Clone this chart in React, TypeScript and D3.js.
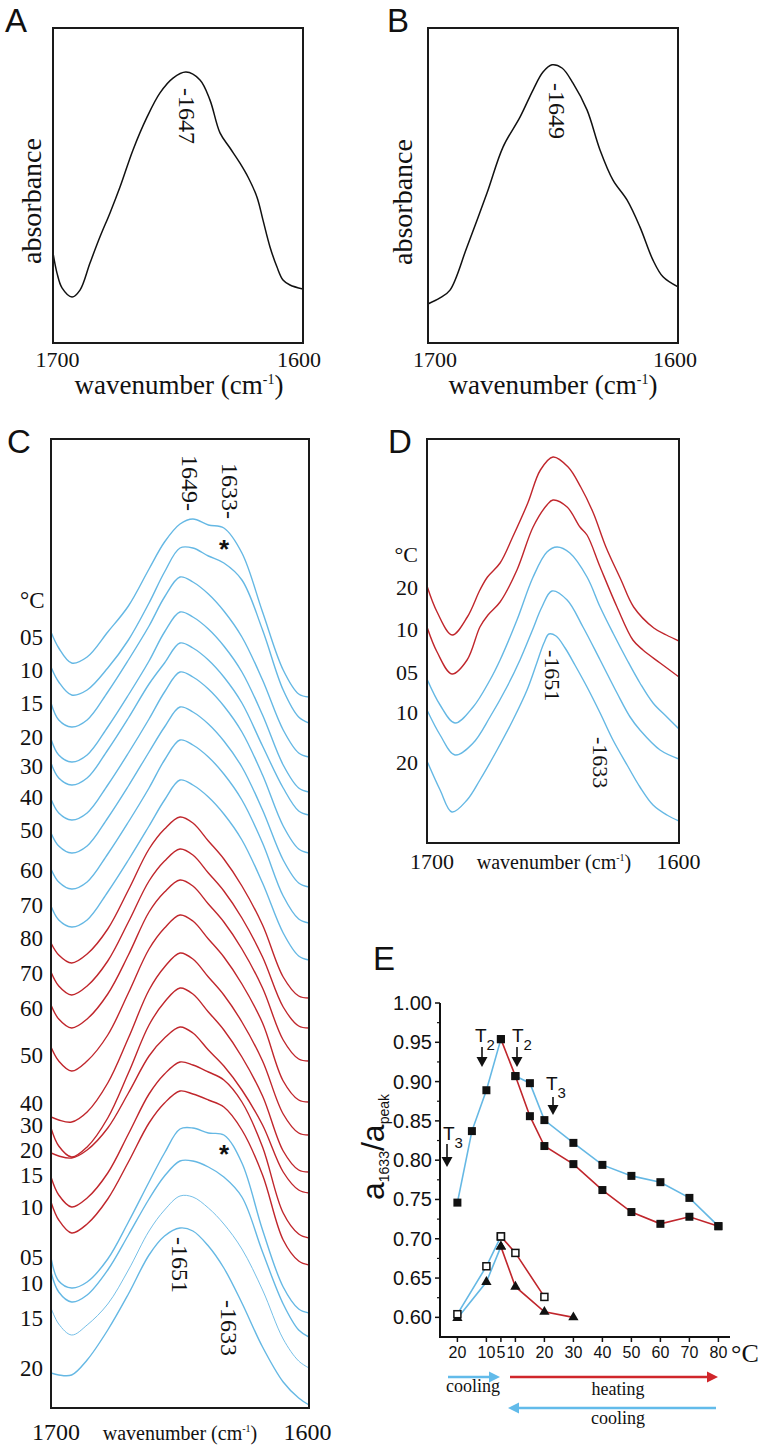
import React from "react";
import * as d3 from "d3";

// ---------- Panel A / B spectra (wavenumber cm-1, normalised absorbance) ----------
const A_WN = [1700, 1698.4, 1696.4, 1692.4, 1689.2, 1685.2, 1681.2, 1677.2, 1673.2, 1668, 1662.4, 1657.2, 1652, 1646.8, 1641.2, 1637.2, 1633.2, 1629.2, 1625.2, 1622, 1618.4, 1616, 1613.2, 1610.4, 1608, 1605.2, 1600];
const A_ABS = [0.286, 0.222, 0.175, 0.146, 0.168, 0.254, 0.337, 0.413, 0.495, 0.613, 0.717, 0.794, 0.841, 0.86, 0.835, 0.771, 0.667, 0.619, 0.571, 0.527, 0.463, 0.39, 0.305, 0.241, 0.2, 0.184, 0.171];
const B_WN = [1700, 1695.2, 1691.2, 1684.4, 1676.4, 1670, 1663.2, 1658, 1654, 1650.4, 1646.4, 1642, 1636.4, 1631.2, 1626, 1620.4, 1615.2, 1610, 1606, 1600];
const B_ABS = [0.124, 0.143, 0.168, 0.305, 0.476, 0.622, 0.717, 0.803, 0.86, 0.883, 0.873, 0.825, 0.74, 0.613, 0.517, 0.454, 0.368, 0.263, 0.21, 0.178];

// ---------- Panel C stacked spectra (a.u., offset) ----------
const C_WN = [1700, 1697, 1692, 1686, 1678, 1670, 1662, 1656, 1650, 1645, 1639, 1633, 1626, 1618, 1610, 1604, 1600];
const C_COOL_05 = [776, 760, 745, 751, 776, 802, 839, 866, 884, 889, 883, 880, 855, 796, 738, 714, 711];
const C_COOL_10 = [741, 726, 713, 718, 740, 768, 805, 836, 860, 860, 852, 845, 828, 778, 718, 691, 685];
const C_COOL_15 = [705, 688, 681, 688, 716, 748, 782, 811, 831, 826, 814, 797, 771, 728, 678, 655, 651];
const C_COOL_20 = [669, 653, 646, 653, 681, 713, 747, 776, 796, 791, 779, 762, 736, 693, 643, 620, 616];
const C_COOL_30 = [645, 630, 623, 630, 658, 690, 724, 745, 765, 760, 748, 731, 705, 662, 620, 597, 593];
const C_COOL_40 = [609, 595, 588, 595, 623, 655, 689, 716, 736, 731, 719, 702, 676, 633, 582, 559, 555];
const C_COOL_50 = [575, 562, 555, 562, 590, 622, 656, 681, 701, 696, 684, 667, 641, 598, 548, 525, 521];
const C_COOL_60 = [539, 526, 519, 526, 554, 586, 620, 648, 668, 663, 651, 634, 608, 565, 512, 489, 485];
const C_COOL_70 = [502, 488, 481, 488, 516, 548, 582, 608, 628, 623, 611, 594, 568, 525, 475, 452, 448];
const C_HEAT_80 = [465, 453, 445, 454, 479, 518, 559, 579, 591, 585, 567, 549, 522, 483, 431, 412, 410];
const C_HEAT_70 = [436, 422, 413, 422, 447, 486, 527, 547, 559, 553, 535, 517, 490, 451, 401, 382, 380];
const C_HEAT_60 = [403, 389, 380, 389, 414, 453, 496, 516, 528, 522, 504, 486, 459, 420, 368, 349, 347];
const C_HEAT_50 = [361, 347, 337, 347, 373, 415, 459, 480, 493, 487, 469, 451, 424, 385, 327, 308, 306];
const C_HEAT_40 = [291, 288, 286, 296, 325, 370, 418, 441, 455, 449, 431, 413, 386, 347, 294, 275, 273];
const C_HEAT_30 = [280, 262, 251, 261, 290, 335, 383, 406, 420, 414, 396, 378, 351, 312, 257, 238, 236];
const C_HEAT_20 = [255, 252, 250, 258, 280, 315, 352, 370, 381, 375, 358, 342, 318, 283, 236, 218, 215];
const C_HEAT_15 = [231, 213, 201, 210, 235, 274, 314, 334, 346, 343, 336, 328, 306, 261, 195, 174, 170];
const C_HEAT_10 = [206, 188, 175, 184, 209, 246, 285, 305, 317, 314, 308, 301, 278, 233, 168, 147, 143];
const C_RECOOL_05 = [150, 127, 120, 126, 149, 186, 226, 255, 279, 280, 275, 273, 245, 178, 121, 99, 95];
const C_RECOOL_10 = [136, 116, 106, 113, 138, 173, 209, 232, 247, 247, 241, 231, 211, 156, 104, 78, 71];
const C_RECOOL_15 = [100, 84, 73, 83, 104, 138, 177, 198, 212, 211, 200, 184, 159, 118, 69, 47, 40];
const C_RECOOL_20 = [35, 33, 33, 48, 78, 114, 153, 172, 180, 177, 162, 140, 105, 61, 26, 10, 3];

// ---------- Panel D stacked spectra ----------
const D_HEAT_20_WN = [1700, 1696, 1690, 1684, 1679, 1676, 1671, 1666, 1660, 1655, 1650, 1644, 1639, 1634, 1629, 1623, 1618, 1610, 1605, 1600];
const D_HEAT_20 = [257, 231, 208, 226, 253, 266, 280, 306, 340, 373, 386, 376, 356, 330, 296, 263, 236, 215, 208, 202];
const D_HEAT_10_WN = [1700, 1696, 1690.1, 1684.1, 1679, 1675.8, 1671, 1664.3, 1657.9, 1652.4, 1650, 1644.4, 1639.3, 1636.5, 1631.3, 1624.6, 1618.3, 1614.3, 1607.5, 1600];
const D_HEAT_10 = [216, 191, 169, 183, 216, 228, 241, 273, 316, 338, 343, 336, 316, 308, 276, 236, 203, 193, 180, 166];
const D_COOL_05_WN = [1700, 1694.8, 1688.9, 1681.7, 1675, 1671, 1664.3, 1657.9, 1652.4, 1648.4, 1643.3, 1636.5, 1631.3, 1626.2, 1620.6, 1615.5, 1610.3, 1604.8, 1600];
const D_COOL_05 = [164, 138, 120, 136, 163, 183, 223, 266, 291, 296, 290, 266, 236, 210, 183, 160, 140, 126, 114];
const D_COOL_10_WN = [1700, 1694.8, 1688.9, 1681.7, 1675, 1668.3, 1663.1, 1658.3, 1654.4, 1650.4, 1644.4, 1638.1, 1631.3, 1624.6, 1619.4, 1615.5, 1607.5, 1600];
const D_COOL_10 = [133, 108, 88, 100, 126, 156, 183, 212, 236, 252, 243, 216, 183, 150, 126, 113, 93, 84];
const D_COOL_20_WN = [1700, 1694.8, 1690.1, 1684.1, 1679, 1672.2, 1665.9, 1660.3, 1656.3, 1653.6, 1651.6, 1648.8, 1645.2, 1641.3, 1636.5, 1631.3, 1626.2, 1620.6, 1615.5, 1610.3, 1604.8, 1600];
const D_COOL_20 = [82, 53, 31, 43, 63, 93, 123, 153, 181, 200, 209, 207, 195, 178, 156, 130, 103, 78, 56, 38, 28, 22];

// ---------- Panel E: a1633/apeak vs temperature step ----------
const E_TICK_POS = [0, 1, 1.5, 2, 3, 4, 5, 6, 7, 8, 9];
const E_TICK_LABELS = ["20", "10", "5", "10", "20", "30", "40", "50", "60", "70", "80"];
const E_Y_TICKS = [0.6, 0.65, 0.7, 0.75, 0.8, 0.85, 0.9, 0.95, 1.0];
const E_SQ_COOL1_POS = [0, 0.5, 1, 1.5];
const E_SQ_COOL1 = [0.746, 0.837, 0.889, 0.954];
const E_SQ_HEAT_POS = [1.5, 2, 2.5, 3, 4, 5, 6, 7, 8, 9];
const E_SQ_HEAT = [0.954, 0.907, 0.856, 0.818, 0.795, 0.762, 0.734, 0.719, 0.728, 0.716];
const E_SQ_COOL2_POS = [9, 8, 7, 6, 5, 4, 3, 2.5, 2];
const E_SQ_COOL2 = [0.716, 0.752, 0.772, 0.78, 0.794, 0.822, 0.851, 0.898, 0.907];
const E_OPEN_COOL_POS = [0, 1, 1.5];
const E_OPEN_COOL = [0.604, 0.665, 0.703];
const E_OPEN_HEAT_POS = [1.5, 2, 3];
const E_OPEN_HEAT = [0.703, 0.682, 0.626];
const E_TRI_COOL_POS = [0, 1, 1.5];
const E_TRI_COOL = [0.599, 0.645, 0.69];
const E_TRI_HEAT_POS = [1.5, 2, 3, 4];
const E_TRI_HEAT = [0.69, 0.639, 0.607, 0.6];

// ---------- styling / layout ----------
const SERIF = "'Liberation Serif','Times New Roman',Times,serif";
const SANS = "'Liberation Sans',Arial,Helvetica,sans-serif";
const BLUE = "#65b8e4";
const RED = "#c0262c";
const ARROW_BLUE = "#62bbea";
const ARROW_RED = "#d0262b";
const FRAME = "#1a1a1a";

type Curve = { label: string; phase: "cooling" | "heating"; values: number[]; nudge: number; thin?: boolean };
const C_CURVES: Curve[] = [
  { label: "05", phase: "cooling", values: C_COOL_05, nudge: 5 },
  { label: "10", phase: "cooling", values: C_COOL_10, nudge: 3 },
  { label: "15", phase: "cooling", values: C_COOL_15, nudge: 0 },
  { label: "20", phase: "cooling", values: C_COOL_20, nudge: -2 },
  { label: "30", phase: "cooling", values: C_COOL_30, nudge: 3 },
  { label: "40", phase: "cooling", values: C_COOL_40, nudge: -2 },
  { label: "50", phase: "cooling", values: C_COOL_50, nudge: -3 },
  { label: "60", phase: "cooling", values: C_COOL_60, nudge: 1 },
  { label: "70", phase: "cooling", values: C_COOL_70, nudge: -1 },
  { label: "80", phase: "heating", values: C_HEAT_80, nudge: -5 },
  { label: "70", phase: "heating", values: C_HEAT_70, nudge: 1 },
  { label: "60", phase: "heating", values: C_HEAT_60, nudge: 3 },
  { label: "50", phase: "heating", values: C_HEAT_50, nudge: 8 },
  { label: "40", phase: "heating", values: C_HEAT_40, nudge: -14 },
  { label: "30", phase: "heating", values: C_HEAT_30, nudge: -3 },
  { label: "20", phase: "heating", values: C_HEAT_20, nudge: -3 },
  { label: "15", phase: "heating", values: C_HEAT_15, nudge: -2 },
  { label: "10", phase: "heating", values: C_HEAT_10, nudge: 5 },
  { label: "05", phase: "cooling", values: C_RECOOL_05, nudge: -1 },
  { label: "10", phase: "cooling", values: C_RECOOL_10, nudge: 11 },
  { label: "15", phase: "cooling", values: C_RECOOL_15, nudge: 10, thin: true },
  { label: "20", phase: "cooling", values: C_RECOOL_20, nudge: -5 },
];

type DCurve = { label: string; phase: "cooling" | "heating"; wn: number[]; values: number[]; nudge: number };
const D_CURVES: DCurve[] = [
  { label: "20", phase: "heating", wn: D_HEAT_20_WN, values: D_HEAT_20, nudge: 1 },
  { label: "10", phase: "heating", wn: D_HEAT_10_WN, values: D_HEAT_10, nudge: 2 },
  { label: "05", phase: "cooling", wn: D_COOL_05_WN, values: D_COOL_05, nudge: -7 },
  { label: "10", phase: "cooling", wn: D_COOL_10_WN, values: D_COOL_10, nudge: 2 },
  { label: "20", phase: "cooling", wn: D_COOL_20_WN, values: D_COOL_20, nudge: 1 },
];

const colorOf = (p: string) => (p === "cooling" ? BLUE : RED);

function Rot90({ x, y, text, size }: { x: number; y: number; text: string; size: number }) {
  return (
    <text transform={`translate(${x},${y}) rotate(90)`} fontFamily={SERIF} fontSize={size} dominantBaseline="central" fill="#111">
      {text}
    </text>
  );
}

function WaveTitle({ x, y, size }: { x: number; y: number; size: number }) {
  const sup = Math.round(size * 0.52);
  return (
    <text x={x} y={y} textAnchor="middle" fontFamily={SERIF} fontSize={size} fill="#111">
      wavenumber (cm
      <tspan fontSize={sup} dy={-size * 0.38}>-1</tspan>
      <tspan dy={size * 0.38}>)</tspan>
    </text>
  );
}

function HArrow({ x1, x2, y, color }: { x1: number; x2: number; y: number; color: string }) {
  const dir = x2 > x1 ? 1 : -1;
  const head = 11;
  const hw = 5.5;
  const bx = x2 - dir * head;
  return (
    <g>
      <line x1={x1} y1={y} x2={bx + dir * 1} y2={y} stroke={color} strokeWidth={2.6} />
      <path d={`M${x2},${y} L${bx},${y - hw} L${bx},${y + hw} Z`} fill={color} />
    </g>
  );
}

function DownArrow({ x, y1, y2 }: { x: number; y1: number; y2: number }) {
  const head = 10;
  return (
    <g>
      <line x1={x} y1={y1} x2={x} y2={y2 - head + 1} stroke="#111" strokeWidth={1.6} />
      <path d={`M${x},${y2} L${x - 5.5},${y2 - head} L${x + 5.5},${y2 - head} Z`} fill="#111" />
    </g>
  );
}

function TLabel({ x, y, sub }: { x: number; y: number; sub: string }) {
  return (
    <text x={x} y={y} fontFamily={SANS} fontSize={19} fill="#111">
      T<tspan fontSize={15} dy={8}>{sub}</tspan>
    </text>
  );
}

export default function App() {
  const xA = d3.scaleLinear().domain([1700, 1600]).range([53, 303]);
  const yA = d3.scaleLinear().domain([0, 1]).range([343, 28]);
  const xB = d3.scaleLinear().domain([1700, 1600]).range([428, 678]);
  const yB = d3.scaleLinear().domain([0, 1]).range([343, 28]);
  const xC = d3.scaleLinear().domain([1700, 1600]).range([51, 309]);
  const yC = d3.scaleLinear().domain([0, 969]).range([1408, 439]);
  const xD = d3.scaleLinear().domain([1700, 1600]).range([427, 679]);
  const yD = d3.scaleLinear().domain([0, 404]).range([843, 439]);
  const xE = d3.scaleLinear().domain([-0.6, 9.4]).range([440, 730]);
  const yE = d3.scaleLinear().domain([0.575, 1.0]).range([1337, 1003]);

  const spec = (xs: d3.ScaleLinear<number, number>, ys: d3.ScaleLinear<number, number>, wn: number[]) =>
    d3
      .line<number>()
      .x((_, i) => xs(wn[i]))
      .y((d) => ys(d))
      .curve(d3.curveCatmullRom.alpha(0.5));

  const eLine = (pos: number[]) =>
    d3
      .line<number>()
      .x((_, i) => xE(pos[i]))
      .y((d) => yE(d));

  const tri = d3.symbol().type(d3.symbolTriangle).size(46)() as string;

  const minorTicks = d3.range(0.625, 1.0, 0.05);

  return (
    <svg width={762} height={1449} viewBox="0 0 762 1449" style={{ position: "absolute", left: 0, top: 0, background: "#fff" }}>
      <defs>
        <clipPath id="clipA"><rect x={53} y={28} width={250} height={315} /></clipPath>
        <clipPath id="clipB"><rect x={428} y={28} width={250} height={315} /></clipPath>
        <clipPath id="clipC"><rect x={51} y={439} width={258} height={969} /></clipPath>
        <clipPath id="clipD"><rect x={427} y={439} width={252} height={404} /></clipPath>
      </defs>
      <rect x={0} y={0} width={762} height={1449} fill="#fff" />

      {/* ---------------- Panel A ---------------- */}
      <text x={5} y={32} fontFamily={SANS} fontSize={33} fill="#111">A</text>
      <path d={spec(xA, yA, A_WN)(A_ABS) || ""} fill="none" stroke="#111" strokeWidth={1.5} clipPath="url(#clipA)" />
      <rect x={53} y={28} width={250} height={315} fill="none" stroke={FRAME} strokeWidth={2} />
      <Rot90 x={187} y={88} text="-1647" size={24} />
      <text transform="translate(41,201) rotate(-90)" textAnchor="middle" fontFamily={SERIF} fontSize={28} fill="#111">absorbance</text>
      <text x={xA(1700) + 4.5} y={367} textAnchor="middle" fontFamily={SERIF} fontSize={22} fill="#111">1700</text>
      <text x={xA(1600) - 4} y={367} textAnchor="middle" fontFamily={SERIF} fontSize={22} fill="#111">1600</text>
      <WaveTitle x={179} y={394} size={27} />

      {/* ---------------- Panel B ---------------- */}
      <text x={387} y={32} fontFamily={SANS} fontSize={33} fill="#111">B</text>
      <path d={spec(xB, yB, B_WN)(B_ABS) || ""} fill="none" stroke="#111" strokeWidth={1.5} clipPath="url(#clipB)" />
      <rect x={428} y={28} width={250} height={315} fill="none" stroke={FRAME} strokeWidth={2} />
      <Rot90 x={557} y={83} text="-1649" size={24} />
      <text transform="translate(412,202) rotate(-90)" textAnchor="middle" fontFamily={SERIF} fontSize={28} fill="#111">absorbance</text>
      <text x={xB(1700) + 7} y={367} textAnchor="middle" fontFamily={SERIF} fontSize={22} fill="#111">1700</text>
      <text x={xB(1600) - 3} y={367} textAnchor="middle" fontFamily={SERIF} fontSize={22} fill="#111">1600</text>
      <WaveTitle x={553} y={394} size={27} />

      {/* ---------------- Panel C ---------------- */}
      <text x={7} y={453} fontFamily={SANS} fontSize={33} fill="#111">C</text>
      <g clipPath="url(#clipC)">
        {C_CURVES.map((c, i) => (
          <path key={i} d={spec(xC, yC, C_WN)(c.values) || ""} fill="none" stroke={colorOf(c.phase)} strokeWidth={c.thin ? 0.9 : 1.4} />
        ))}
      </g>
      <rect x={51} y={439} width={258} height={969} fill="none" stroke={FRAME} strokeWidth={2} />
      <text x={20} y={608} fontFamily={SERIF} fontSize={23} fill="#111">°C</text>
      {C_CURVES.map((c, i) => (
        <text key={i} x={43} y={yC(c.values[0]) + c.nudge} textAnchor="end" dominantBaseline="central" fontFamily={SERIF} fontSize={23} fill="#111">
          {c.label}
        </text>
      ))}
      <Rot90 x={190} y={455} text="1649-" size={24} />
      <Rot90 x={230} y={463} text="1633-" size={24} />
      <text x={224} y={558} textAnchor="middle" fontFamily={SANS} fontWeight="bold" fontSize={26} fill="#111">*</text>
      <text x={224} y={1163} textAnchor="middle" fontFamily={SANS} fontWeight="bold" fontSize={26} fill="#111">*</text>
      <Rot90 x={180} y={1237} text="-1651" size={24} />
      <Rot90 x={229} y={1300} text="-1633" size={24} />
      <text x={xC(1700) + 5} y={1440} textAnchor="middle" fontFamily={SERIF} fontSize={24} fill="#111">1700</text>
      <text x={xC(1600) - 1.5} y={1440} textAnchor="middle" fontFamily={SERIF} fontSize={24} fill="#111">1600</text>
      <WaveTitle x={180} y={1440} size={20} />

      {/* ---------------- Panel D ---------------- */}
      <text x={388} y={453} fontFamily={SANS} fontSize={33} fill="#111">D</text>
      <g clipPath="url(#clipD)">
        {D_CURVES.map((c, i) => (
          <path key={i} d={spec(xD, yD, c.wn)(c.values) || ""} fill="none" stroke={colorOf(c.phase)} strokeWidth={1.4} />
        ))}
      </g>
      <rect x={427} y={439} width={252} height={404} fill="none" stroke={FRAME} strokeWidth={2} />
      <text x={418} y={562} textAnchor="end" fontFamily={SERIF} fontSize={22} fill="#111">°C</text>
      {D_CURVES.map((c, i) => (
        <text key={i} x={418} y={yD(c.values[0]) + c.nudge} textAnchor="end" dominantBaseline="central" fontFamily={SERIF} fontSize={22} fill="#111">
          {c.label}
        </text>
      ))}
      <Rot90 x={552} y={650} text="-1651" size={22} />
      <Rot90 x={600} y={737} text="-1633" size={22} />
      <text x={xD(1700) + 5} y={869} textAnchor="middle" fontFamily={SERIF} fontSize={22} fill="#111">1700</text>
      <text x={xD(1600) - 0.5} y={869} textAnchor="middle" fontFamily={SERIF} fontSize={22} fill="#111">1600</text>
      <WaveTitle x={554} y={869} size={20} />

      {/* ---------------- Panel E ---------------- */}
      <text x={373} y={970} fontFamily={SANS} fontSize={33} fill="#111">E</text>
      {/* axes */}
      <line x1={440} y1={yE(1.0)} x2={440} y2={1337} stroke="#111" strokeWidth={2} />
      <line x1={439} y1={1337} x2={730} y2={1337} stroke="#111" strokeWidth={2} />
      {E_Y_TICKS.map((t) => (
        <g key={t}>
          <line x1={435} x2={440} y1={yE(t)} y2={yE(t)} stroke="#111" strokeWidth={1.5} />
          <text x={432} y={yE(t)} textAnchor="end" dominantBaseline="central" fontFamily={SANS} fontSize={20} fill="#111">
            {t.toFixed(2)}
          </text>
        </g>
      ))}
      {minorTicks.map((t) => (
        <line key={t} x1={437} x2={440} y1={yE(t)} y2={yE(t)} stroke="#111" strokeWidth={1.2} />
      ))}
      {E_TICK_POS.map((p, i) => (
        <g key={i}>
          <line x1={xE(p)} x2={xE(p)} y1={1337} y2={1342} stroke="#111" strokeWidth={1.5} />
          <text x={xE(p)} y={1358} textAnchor="middle" fontFamily={SANS} fontSize={16} fill="#111">
            {E_TICK_LABELS[i]}
          </text>
        </g>
      ))}
      <text x={731} y={1362} fontFamily={SERIF} fontSize={26} fill="#111">°C</text>
      <text transform="translate(384,1147) rotate(-90)" textAnchor="middle" fontFamily={SANS} fontSize={32} fill="#111">
        a<tspan fontSize={14} dy={5}>1633</tspan>
        <tspan dy={-5}>/a</tspan>
        <tspan fontSize={14} dy={5}>peak</tspan>
      </text>

      {/* lines */}
      <path d={eLine(E_SQ_COOL1_POS)(E_SQ_COOL1) || ""} fill="none" stroke={BLUE} strokeWidth={1.6} />
      <path d={eLine(E_SQ_COOL2_POS)(E_SQ_COOL2) || ""} fill="none" stroke={BLUE} strokeWidth={1.6} />
      <path d={eLine(E_SQ_HEAT_POS)(E_SQ_HEAT) || ""} fill="none" stroke={RED} strokeWidth={1.6} />
      <path d={eLine(E_OPEN_COOL_POS)(E_OPEN_COOL) || ""} fill="none" stroke={BLUE} strokeWidth={1.6} />
      <path d={eLine(E_TRI_COOL_POS)(E_TRI_COOL) || ""} fill="none" stroke={BLUE} strokeWidth={1.6} />
      <path d={eLine(E_OPEN_HEAT_POS)(E_OPEN_HEAT) || ""} fill="none" stroke={RED} strokeWidth={1.6} />
      <path d={eLine(E_TRI_HEAT_POS)(E_TRI_HEAT) || ""} fill="none" stroke={RED} strokeWidth={1.6} />

      {/* markers */}
      {[...E_TRI_COOL.map((v, i) => [E_TRI_COOL_POS[i], v]), ...E_TRI_HEAT.map((v, i) => [E_TRI_HEAT_POS[i], v])].map(([p, v], i) => (
        <path key={"t" + i} d={tri} transform={`translate(${xE(p)},${yE(v)})`} fill="#111" />
      ))}
      {[...E_OPEN_COOL.map((v, i) => [E_OPEN_COOL_POS[i], v]), ...E_OPEN_HEAT.map((v, i) => [E_OPEN_HEAT_POS[i], v])].map(([p, v], i) => (
        <rect key={"o" + i} x={xE(p) - 3.5} y={yE(v) - 3.5} width={7} height={7} fill="#fff" stroke="#111" strokeWidth={1.5} />
      ))}
      {[
        ...E_SQ_COOL1.map((v, i) => [E_SQ_COOL1_POS[i], v]),
        ...E_SQ_HEAT.map((v, i) => [E_SQ_HEAT_POS[i], v]),
        ...E_SQ_COOL2.map((v, i) => [E_SQ_COOL2_POS[i], v]),
      ].map(([p, v], i) => (
        <rect key={"s" + i} x={xE(p) - 4} y={yE(v) - 4} width={8} height={8} fill="#111" />
      ))}

      {/* transition annotations */}
      <TLabel x={443} y={1140} sub="3" />
      <DownArrow x={447} y1={1144} y2={1167} />
      <TLabel x={475} y={1042} sub="2" />
      <DownArrow x={482} y1={1047} y2={1067} />
      <TLabel x={512} y={1042} sub="2" />
      <DownArrow x={517} y1={1047} y2={1067} />
      <TLabel x={546} y={1090} sub="3" />
      <DownArrow x={553} y1={1097} y2={1115} />

      {/* protocol arrows */}
      <HArrow x1={448} x2={500} y={1377} color={ARROW_BLUE} />
      <text x={473} y={1392} textAnchor="middle" fontFamily={SERIF} fontSize={18} fill="#111">cooling</text>
      <HArrow x1={510} x2={718} y={1377} color={ARROW_RED} />
      <text x={618} y={1395} textAnchor="middle" fontFamily={SERIF} fontSize={18} fill="#111">heating</text>
      <HArrow x1={716} x2={508} y={1408} color={ARROW_BLUE} />
      <text x={618} y={1424} textAnchor="middle" fontFamily={SERIF} fontSize={18} fill="#111">cooling</text>
    </svg>
  );
}
